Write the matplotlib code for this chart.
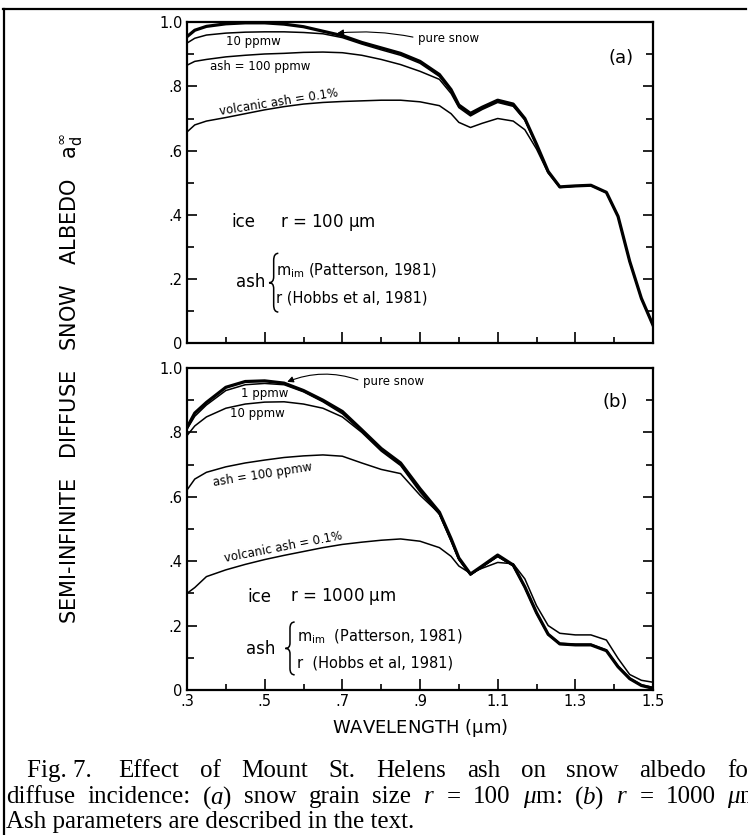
import matplotlib
matplotlib.use("Agg")
import matplotlib.pyplot as plt
from matplotlib.path import Path
from matplotlib.patches import PathPatch
from matplotlib.lines import Line2D
from matplotlib.ticker import MultipleLocator, FixedLocator

plt.rcParams['font.family'] = ['DejaVu Sans']
plt.rcParams['mathtext.fontset'] = 'custom'
plt.rcParams['mathtext.rm'] = 'DejaVu Sans'
plt.rcParams['mathtext.it'] = 'Liberation Serif:italic'
plt.rcParams['mathtext.fallback'] = 'stix'

# wavelength grid (um) shared by all curves
wl = [0.30, 0.32, 0.35, 0.40, 0.45, 0.50, 0.55, 0.60, 0.65, 0.70, 0.75, 0.80,
      0.85, 0.90, 0.95, 0.98, 1.00, 1.03, 1.06, 1.10, 1.14, 1.17, 1.20, 1.23,
      1.26, 1.30, 1.34, 1.38, 1.41, 1.44, 1.47, 1.50]

# (a) r = 100 um
a_pure = [0.955, 0.975, 0.987, 0.995, 0.998, 0.998, 0.994, 0.986, 0.972, 0.958, 0.937, 0.920,
          0.903, 0.878, 0.837, 0.790, 0.742, 0.716, 0.735, 0.757, 0.745, 0.700, 0.620, 0.535,
          0.487, 0.490, 0.492, 0.470, 0.395, 0.255, 0.140, 0.056]
a_10ppmw = [0.935, 0.950, 0.960, 0.966, 0.969, 0.970, 0.970, 0.968, 0.964, 0.952, 0.932, 0.914,
            0.897, 0.872, 0.831, 0.785, 0.738, 0.712, 0.731, 0.753, 0.741, 0.697, 0.618, 0.534,
            0.487, 0.490, 0.492, 0.470, 0.395, 0.255, 0.140, 0.056]
a_100ppmw = [0.866, 0.878, 0.884, 0.892, 0.897, 0.901, 0.903, 0.906, 0.907, 0.905, 0.897, 0.884,
             0.868, 0.847, 0.822, 0.778, 0.734, 0.708, 0.728, 0.750, 0.738, 0.695, 0.616, 0.533,
             0.486, 0.490, 0.492, 0.470, 0.395, 0.255, 0.140, 0.056]
a_volc = [0.658, 0.680, 0.692, 0.703, 0.715, 0.727, 0.737, 0.745, 0.750, 0.753, 0.755, 0.757,
          0.757, 0.752, 0.740, 0.715, 0.688, 0.672, 0.685, 0.700, 0.692, 0.665, 0.605, 0.530,
          0.485, 0.489, 0.491, 0.469, 0.394, 0.254, 0.139, 0.055]

# (b) r = 1000 um
b_pure = [0.815, 0.860, 0.893, 0.940, 0.958, 0.960, 0.953, 0.930, 0.900, 0.865, 0.808, 0.750,
          0.705, 0.625, 0.552, 0.470, 0.410, 0.360, 0.385, 0.419, 0.388, 0.320, 0.240, 0.173,
          0.143, 0.140, 0.140, 0.122, 0.072, 0.035, 0.014, 0.005]
b_1ppmw = [0.810, 0.850, 0.885, 0.930, 0.948, 0.952, 0.948, 0.926, 0.895, 0.858, 0.803, 0.745,
           0.700, 0.620, 0.547, 0.466, 0.407, 0.358, 0.383, 0.416, 0.386, 0.318, 0.239, 0.172,
           0.143, 0.140, 0.140, 0.122, 0.072, 0.035, 0.014, 0.005]
b_10ppmw = [0.790, 0.820, 0.848, 0.875, 0.888, 0.894, 0.895, 0.888, 0.875, 0.848, 0.800, 0.742,
            0.697, 0.615, 0.545, 0.462, 0.405, 0.357, 0.382, 0.415, 0.385, 0.318, 0.238, 0.172,
            0.142, 0.140, 0.140, 0.122, 0.072, 0.035, 0.014, 0.005]
b_100ppmw = [0.621, 0.655, 0.676, 0.693, 0.705, 0.714, 0.722, 0.727, 0.730, 0.726, 0.705, 0.685,
             0.672, 0.605, 0.548, 0.465, 0.405, 0.358, 0.382, 0.414, 0.386, 0.320, 0.240, 0.174,
             0.145, 0.142, 0.142, 0.124, 0.074, 0.037, 0.016, 0.008]
b_volc = [0.300, 0.318, 0.352, 0.373, 0.390, 0.405, 0.418, 0.430, 0.442, 0.452, 0.459, 0.465,
          0.469, 0.462, 0.442, 0.415, 0.385, 0.362, 0.378, 0.396, 0.392, 0.345, 0.262, 0.200,
          0.176, 0.171, 0.171, 0.155, 0.098, 0.048, 0.030, 0.024]

xticks = [0.3, 0.5, 0.7, 0.9, 1.1, 1.3, 1.5]
xticklabels = ['.3', '.5', '.7', '.9', '1.1', '1.3', '1.5']
yticks = [0.0, 0.2, 0.4, 0.6, 0.8, 1.0]
yticklabels = ['0', '.2', '.4', '.6', '.8', '1.0']

caption_lines = [
    ['Fig. 7. ', 'Effect', 'of', 'Mount', 'St.', 'Helens', 'ash', 'on', 'snow', 'albedo', 'for'],
    ['diffuse', 'incidence:', r'($\mathit{a}$)', 'snow', 'grain', 'size', r'$r$', '=', '100',
     r'$\mathit{\mu}$m:', r'($\mathit{b}$)', r'$r$', '=', '1000', r'$\mathit{\mu}$m.'],
    ['Ash parameters are described in the text.'],
]


def brace(ax, x, y0, y1, w):
    # left curly brace in axes fraction coordinates
    ym = (y0 + y1) / 2
    h = (y1 - y0)
    verts = [(x + w, y1), (x + w / 2, y1), (x + w / 2, y1 - h * 0.12),
             (x + w / 2, ym + h * 0.1), (x + w / 2, ym), (x, ym),
             (x + w / 2, ym), (x + w / 2, ym - h * 0.1),
             (x + w / 2, y0 + h * 0.12), (x + w / 2, y0), (x + w, y0)]
    codes = [Path.MOVETO, Path.CURVE3, Path.CURVE3, Path.LINETO, Path.CURVE3, Path.CURVE3,
             Path.CURVE3, Path.CURVE3, Path.LINETO, Path.CURVE3, Path.CURVE3]
    ax.add_patch(PathPatch(Path(verts, codes), fc='none', ec='k', lw=1.1,
                           transform=ax.transAxes, clip_on=False))


def setup(ax, show_xlabels):
    ax.set_xlim(0.3, 1.5)
    ax.set_ylim(0, 1.0)
    for s in ax.spines.values():
        s.set_linewidth(1.6)
    ax.xaxis.set_major_locator(FixedLocator(xticks))
    ax.xaxis.set_minor_locator(MultipleLocator(0.1))
    ax.yaxis.set_major_locator(FixedLocator(yticks))
    ax.yaxis.set_minor_locator(MultipleLocator(0.1))
    ax.tick_params(axis='both', which='both', direction='in', width=1.2, top=False,
                   right=True, labelsize=10.5, pad=3)
    ax.tick_params(axis='x', which='major', length=8)
    ax.tick_params(axis='x', which='minor', length=4.5)
    ax.tick_params(axis='y', which='major', length=7)
    ax.tick_params(axis='y', which='minor', length=5)
    ax.set_yticklabels(yticklabels)
    if show_xlabels:
        ax.set_xticklabels(xticklabels)
    else:
        ax.set_xticklabels([])


def justified(fig, words, x0, x1, y, **kw):
    # spread the words of one caption line evenly between x0 and x1 (pixels)
    r = fig.canvas.get_renderer()
    texts = [fig.text(0, y, w, **kw) for w in words]
    widths = [t.get_window_extent(r).width for t in texts]
    gap = (x1 - x0 - sum(widths)) / max(len(words) - 1, 1)
    x = x0
    for t, w in zip(texts, widths):
        t.set_x(x / fig.bbox.width)
        x += w + gap


fig = plt.figure(figsize=(7.48, 8.35), dpi=100)
ax_a = fig.add_axes([0.25, 0.589, 0.623, 0.3844])
ax_b = fig.add_axes([0.25, 0.1737, 0.623, 0.3856])
setup(ax_a, False)
setup(ax_b, True)

thick = dict(color='k', lw=2.3, solid_joinstyle='round')
thin = dict(color='k', lw=1.1, solid_joinstyle='round')

# panel (a)
ax_a.plot(wl, a_volc, **thin)
ax_a.plot(wl, a_100ppmw, **thin)
ax_a.plot(wl, a_10ppmw, **thin)
ax_a.plot(wl, a_pure, **thick)

ax_a.text(0.47, 0.940, '10 ppmw', fontsize=8.5, ha='center', va='center')
ax_a.text(0.488, 0.863, 'ash = 100 ppmw', fontsize=8.5, ha='center', va='center')
ax_a.text(0.537, 0.752, 'volcanic ash = 0.1%', fontsize=8.5, ha='center', va='center',
          rotation=9, rotation_mode='anchor')
ax_a.annotate('pure snow', xy=(0.687, 0.966), xytext=(0.896, 0.950), fontsize=8.5,
              ha='left', va='center',
              arrowprops=dict(arrowstyle='-|>', color='k', lw=0.8, shrinkA=2, shrinkB=0,
                              mutation_scale=9, relpos=(0, 0.5),
                              connectionstyle='arc3,rad=0.08'))
ax_a.text(1.418, 0.89, '(a)', fontsize=13, ha='center', va='center')
ax_a.text(0.446, 0.377, 'ice', fontsize=12, ha='center', va='center')
ax_a.text(0.54, 0.377, r'r = 100 $\mathrm{\mu}$m', fontsize=12, ha='left', va='center')
ax_a.text(0.463, 0.19, 'ash', fontsize=12, ha='center', va='center')
ax_a.text(0.53, 0.227, r'm$_{\mathrm{im}}$ (Patterson, 1981)', fontsize=10.5, ha='left', va='center')
ax_a.text(0.53, 0.140, 'r (Hobbs et al, 1981)', fontsize=10.5, ha='left', va='center')
brace(ax_a, 0.176, 0.097, 0.28, 0.02)

# panel (b)
ax_b.plot(wl, b_volc, **thin)
ax_b.plot(wl, b_100ppmw, **thin)
ax_b.plot(wl, b_10ppmw, **thin)
ax_b.plot(wl, b_1ppmw, **thin)
ax_b.plot(wl, b_pure, **thick)

ax_b.text(0.50, 0.922, '1 ppmw', fontsize=8.5, ha='center', va='center')
ax_b.text(0.48, 0.860, '10 ppmw', fontsize=8.5, ha='center', va='center')
ax_b.text(0.494, 0.668, 'ash = 100 ppmw', fontsize=8.5, ha='center', va='center',
          rotation=9, rotation_mode='anchor')
ax_b.text(0.548, 0.445, 'volcanic ash = 0.1%', fontsize=8.5, ha='center', va='center',
          rotation=11, rotation_mode='anchor')
ax_b.annotate('pure snow', xy=(0.558, 0.957), xytext=(0.754, 0.957), fontsize=8.5,
              ha='left', va='center',
              arrowprops=dict(arrowstyle='-|>', color='k', lw=0.8, shrinkA=2, shrinkB=0,
                              mutation_scale=9, relpos=(0, 0.5),
                              connectionstyle='arc3,rad=0.2'))
ax_b.text(1.404, 0.894, '(b)', fontsize=13, ha='center', va='center')
ax_b.text(0.486, 0.289, 'ice', fontsize=12, ha='center', va='center')
ax_b.text(0.566, 0.289, r'r = 1000 $\mathrm{\mu}$m', fontsize=12, ha='left', va='center')
ax_b.text(0.49, 0.127, 'ash', fontsize=12, ha='center', va='center')
ax_b.text(0.584, 0.168, r'm$_{\mathrm{im}}$  (Patterson, 1981)', fontsize=10.5, ha='left', va='center')
ax_b.text(0.584, 0.084, 'r  (Hobbs et al, 1981)', fontsize=10.5, ha='left', va='center')
brace(ax_b, 0.211, 0.047, 0.211, 0.02)

ax_b.set_xlabel(r'WAVELENGTH ($\mathrm{\mu}$m)', fontsize=13, labelpad=6)
fig.text(0.096, 0.547, r'SEMI-INFINITE   DIFFUSE   SNOW   ALBEDO   $\mathrm{a_d^{\infty}}$',
         fontsize=15, rotation=90, ha='center', va='center')

# page frame around the figure
frame = dict(color='k', lw=1.6, transform=fig.transFigure)
fig.add_artist(Line2D([0.004, 0.997], [0.989, 0.989], **frame))
fig.add_artist(Line2D([0.006, 0.006], [0.0, 0.989], **frame))

# caption, justified to a column wider than the page crop
cap = dict(fontsize=18, family='Liberation Serif', ha='left', va='baseline')
justified(fig, caption_lines[0], 27, 756, 0.069, **cap)
justified(fig, caption_lines[1], 6, 766, 0.038, **cap)
fig.text(0.008, 0.008, caption_lines[2][0], **cap)

fig.savefig('out.png', dpi=100)
